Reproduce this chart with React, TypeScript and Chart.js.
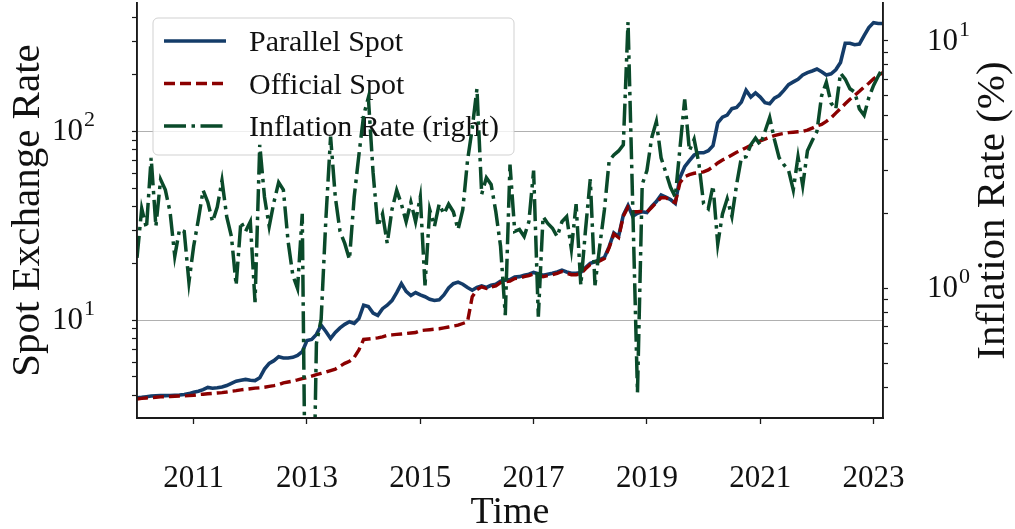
import React, { useEffect, useRef } from 'react';
import { Chart, registerables } from 'chart.js';

Chart.register(...registerables);

// ---------------- data ----------------
const START_YEAR = 2010; // monthly observations, Jan 2010 .. Mar 2023

const parallelSpot = [
  3.88, 3.9, 3.93, 3.96, 3.97, 3.98, 3.98, 3.99, 4.0, 4.01, 4.04, 4.08,
  4.15, 4.2, 4.28, 4.4, 4.36, 4.38, 4.42, 4.5, 4.62, 4.75, 4.8, 4.85,
  4.8, 4.78, 4.95, 5.5, 5.9, 6.1, 6.4, 6.3, 6.3, 6.35, 6.5, 6.8,
  7.8, 7.9, 8.4, 9.4, 8.7, 8.0, 8.6, 9.1, 9.5, 9.8, 9.6, 10.2,
  12.0, 11.8, 10.9, 10.6, 11.5, 12.0, 12.7, 14.0, 15.6, 14.2, 13.5, 14.0,
  13.6, 13.3, 12.9, 12.7, 12.8, 13.6, 14.8, 15.6, 15.9, 15.5, 14.9, 14.4,
  14.9, 15.2, 14.9, 15.3, 15.5, 16.1, 16.3, 16.4, 16.9, 17.0, 17.3, 17.5,
  17.9, 17.6, 17.3, 17.5, 17.7, 18.0, 18.4, 18.0, 17.7, 17.7, 17.9, 19.0,
  20.0, 20.4, 20.9, 21.5, 24.5, 29.0, 27.8, 36.0, 40.5, 35.5, 36.8, 37.5,
  37.2, 40.0, 42.5, 46.0, 44.8, 43.5, 41.5, 57.0, 65.0, 70.0, 75.0, 77.0,
  77.0, 79.0, 84.0, 111, 119, 122, 132, 134, 143, 165, 152, 160,
  152, 142, 140, 150, 155, 165, 177, 183, 189, 199, 205, 209,
  214, 207, 199, 202, 212, 232, 293, 293, 288, 290, 322, 355,
  377, 373, 373,
];

const officialSpot = [
  3.82, 3.85, 3.87, 3.88, 3.9, 3.92, 3.93, 3.94, 3.95, 3.96, 3.97, 3.98,
  4.0, 4.03, 4.05, 4.07, 4.09, 4.11, 4.13, 4.16, 4.2, 4.23, 4.27, 4.3,
  4.33, 4.36, 4.38, 4.41, 4.46, 4.5, 4.55, 4.65, 4.7, 4.75, 4.82, 4.9,
  4.96, 5.05, 5.14, 5.22, 5.3, 5.4, 5.5, 5.7, 5.9, 6.05, 6.35, 6.95,
  7.9, 7.95, 8.0, 8.05, 8.15, 8.3, 8.35, 8.4, 8.45, 8.5, 8.55, 8.6,
  8.8, 8.85, 8.9, 8.95, 9.0, 9.1, 9.2, 9.3, 9.4, 9.6, 9.8, 13.3,
  14.5, 15.0, 14.7, 15.0, 15.2, 15.8, 16.0, 16.1, 16.6, 16.7, 17.0, 17.2,
  17.6, 17.3, 17.0, 17.2, 17.4, 17.7, 18.1, 17.7, 17.4, 17.4, 17.6, 18.7,
  19.7, 20.1, 20.6, 21.2, 24.2, 28.6, 27.4, 35.5, 39.8, 37.5, 37.5, 37.8,
  37.4, 39.5, 42.0, 44.5, 44.5, 43.0, 42.0, 53.5, 57.5, 59.0, 60.0, 60.5,
  61.0, 62.5, 65.0, 68.0, 70.5, 72.5, 75.0, 77.5, 79.5, 82.0, 84.5, 87.0,
  89.0, 91.0, 93.0, 95.0, 96.5, 97.5, 98.5, 99.0, 99.5, 100, 101.5, 104,
  107, 109, 113, 118, 125, 132, 140, 148, 155, 163, 172, 180,
  190, 198, 205,
];

const inflationRate = [
  1.33, 2.1, 1.75, 3.37, 1.78, 2.75, 2.5, 2.04, 1.35, 1.73, 1.7, 1.06,
  1.48, 1.9, 2.49, 2.23, 1.86, 2.13, 2.73, 1.95, 1.62, 1.03, 1.86, 1.7,
  1.86, 0.88, 3.8, 2.34, 1.78, 2.23, 2.68, 2.5, 1.55, 1.13, 1.0, 2.0,
  0.03, 0.05, 0.6, 0.75, 1.9, 4.1, 2.34, 1.7, 1.52, 1.31, 2.34, 3.46,
  5.0, 5.9, 2.94, 1.78, 2.0, 1.52, 2.08, 2.49, 2.19, 1.86, 2.23, 1.86,
  2.34, 1.03, 2.08, 1.78, 2.19, 2.0, 2.19, 2.04, 1.73, 2.08, 3.28, 4.43,
  6.4, 2.4, 2.8, 2.63, 2.04, 1.48, 0.78, 3.16, 1.7, 1.73, 1.62, 1.86,
  2.99, 0.77, 1.95, 1.83, 1.75, 1.62, 1.86, 1.95, 1.44, 2.19, 1.03, 1.73,
  2.76, 1.03, 1.48, 2.08, 3.28, 3.46, 3.59, 3.8, 11.9, 2.13, 0.38, 2.63,
  2.99, 4.05, 4.72, 3.37, 2.94, 2.56, 2.34, 3.69, 5.8, 3.6, 4.0, 3.2,
  2.2, 2.1, 2.6, 1.51, 2.0, 2.3, 1.95, 2.63, 3.37, 3.4, 3.8, 4.05,
  3.8, 4.3, 4.9, 4.0, 3.37, 3.16, 3.0, 2.5, 3.4, 2.6, 3.6, 3.95,
  4.3, 6.0, 6.8, 5.6, 5.3, 7.4, 7.0, 6.4, 6.2, 5.3, 5.0, 5.9,
  6.6, 7.2, 7.8,
];

const seriesNames = ['Parallel Spot', 'Official Spot', 'Inflation Rate (right)'];
const xTickYears = [2011, 2013, 2015, 2017, 2019, 2021, 2023];
const leftTickValues = [4, 5, 6, 7, 8, 9, 10, 20, 30, 40, 50, 60, 70, 80, 90, 100, 200, 300, 400];
const rightTickValues = [0.4, 0.5, 0.6, 0.7, 0.8, 0.9, 1, 2, 3, 4, 5, 6, 7, 8, 9, 10];
const leftMajorTicks = [10, 100];
const rightMajorTicks = [1, 10];
const xTitle = 'Time';
const leftTitle = 'Spot Exchange Rate';
const rightTitle = 'Inflation Rate (%)';

// ---------------- style ----------------
const FONT = "'Liberation Serif', 'Times New Roman', serif";
const BLUE = '#143c69';
const RED = '#8b0000';
const GREEN = '#0a4a2a';
const SPINE = '#1a1a1a';
const TEXT = '#111111';

const months = parallelSpot.map((_, i) => START_YEAR + i / 12);
const toPoints = (vals: number[]) => vals.map((v, i) => ({ x: months[i], y: v }));

function drawLegend(chart: any) {
  const ctx: CanvasRenderingContext2D = chart.ctx;
  const ca = chart.chartArea;
  const x0 = ca.left + 16;
  const y0 = ca.top + 15;
  const w = 361;
  const h = 137;
  const r = 5;
  ctx.save();
  ctx.beginPath();
  ctx.moveTo(x0 + r, y0);
  ctx.lineTo(x0 + w - r, y0);
  ctx.arcTo(x0 + w, y0, x0 + w, y0 + r, r);
  ctx.lineTo(x0 + w, y0 + h - r);
  ctx.arcTo(x0 + w, y0 + h, x0 + w - r, y0 + h, r);
  ctx.lineTo(x0 + r, y0 + h);
  ctx.arcTo(x0, y0 + h, x0, y0 + h - r, r);
  ctx.lineTo(x0, y0 + r);
  ctx.arcTo(x0, y0, x0 + r, y0, r);
  ctx.closePath();
  ctx.fillStyle = 'rgba(255,255,255,0.8)';
  ctx.fill();
  ctx.strokeStyle = 'rgba(204,204,204,0.9)';
  ctx.lineWidth = 1;
  ctx.stroke();

  chart.data.datasets.forEach((ds: any, k: number) => {
    const y = y0 + 23 + k * 42.5;
    ctx.beginPath();
    ctx.setLineDash(ds.borderDash || []);
    ctx.lineDashOffset = 0;
    ctx.strokeStyle = ds.borderColor;
    ctx.lineWidth = ds.borderWidth;
    ctx.lineCap = 'butt';
    ctx.moveTo(x0 + 11, y);
    ctx.lineTo(x0 + 73, y);
    ctx.stroke();
    ctx.setLineDash([]);
    ctx.fillStyle = TEXT;
    ctx.font = `30px ${FONT}`;
    ctx.textAlign = 'left';
    ctx.textBaseline = 'alphabetic';
    ctx.fillText(seriesNames[k], x0 + 96, y + 10);
  });
  ctx.restore();
}

// "10^n" label with a real superscript
function drawPower(ctx: CanvasRenderingContext2D, value: number, x: number, y: number, align: 'left' | 'right') {
  const exp = String(Math.round(Math.log10(value)));
  ctx.font = `31px ${FONT}`;
  const wBase = ctx.measureText('10').width;
  ctx.font = `22px ${FONT}`;
  const wExp = ctx.measureText(exp).width;
  const start = align === 'right' ? x - wBase - wExp - 1 : x;
  ctx.textAlign = 'left';
  ctx.textBaseline = 'alphabetic';
  ctx.font = `31px ${FONT}`;
  ctx.fillText('10', start, y + 9);
  ctx.font = `22px ${FONT}`;
  ctx.fillText(exp, start + wBase + 1, y - 5);
}

const decorPlugin = {
  id: 'decor',
  beforeDatasetDraw(chart: any, args: any) {
    if (args.index === 2) drawLegend(chart);
  },
  afterDraw(chart: any) {
    const ctx: CanvasRenderingContext2D = chart.ctx;
    const ca = chart.chartArea;
    const midY = (ca.top + ca.bottom) / 2;
    const yl = chart.scales.y;
    const yr = chart.scales.y1;
    ctx.save();
    ctx.fillStyle = TEXT;

    leftMajorTicks.forEach((v) => drawPower(ctx, v, ca.left - 42, yl.getPixelForValue(v), 'right'));
    rightMajorTicks.forEach((v) => drawPower(ctx, v, ca.right + 44, yr.getPixelForValue(v), 'left'));

    ctx.textAlign = 'center';
    ctx.textBaseline = 'alphabetic';
    ctx.font = `38px ${FONT}`;
    ctx.fillText(xTitle, (ca.left + ca.right) / 2, 523);

    ctx.font = `41px ${FONT}`;
    ctx.save();
    ctx.translate(39, midY);
    ctx.rotate(-Math.PI / 2);
    ctx.fillText(leftTitle, 0, 0);
    ctx.restore();

    ctx.save();
    ctx.translate(1004, midY);
    ctx.rotate(-Math.PI / 2);
    ctx.fillText(rightTitle, 0, 0);
    ctx.restore();
    ctx.restore();
  },
};

const noPad = (s: any) => {
  s.paddingTop = 0;
  s.paddingBottom = 0;
  s.paddingLeft = 0;
  s.paddingRight = 0;
};

export default function App() {
  const canvasRef = useRef<HTMLCanvasElement | null>(null);

  useEffect(() => {
    const canvas = canvasRef.current;
    if (!canvas) return;
    const tickFont = { family: FONT, size: 31 };
    const chart = new Chart(canvas, {
      type: 'line',
      data: {
        datasets: [
          {
            label: seriesNames[0],
            data: toPoints(parallelSpot),
            yAxisID: 'y',
            borderColor: BLUE,
            borderWidth: 3.6,
            pointRadius: 0,
            tension: 0,
            order: 2,
            clip: 0,
          },
          {
            label: seriesNames[1],
            data: toPoints(officialSpot),
            yAxisID: 'y',
            borderColor: RED,
            borderWidth: 3.4,
            borderDash: [11, 5],
            pointRadius: 0,
            tension: 0,
            order: 1,
            clip: 0,
          },
          {
            label: seriesNames[2],
            data: toPoints(inflationRate),
            yAxisID: 'y1',
            borderColor: GREEN,
            borderWidth: 3.5,
            borderDash: [22, 5.5, 3.5, 5.5],
            pointRadius: 0,
            tension: 0,
            order: 0,
            clip: 0,
          },
        ],
      } as any,
      options: {
        animation: false,
        responsive: false,
        devicePixelRatio: 1,
        layout: { padding: { top: 3, left: 0, right: 0, bottom: 0 } },
        plugins: { legend: { display: false }, tooltip: { enabled: false } },
        scales: {
          x: {
            type: 'linear',
            min: START_YEAR,
            max: months[months.length - 1],
            afterBuildTicks: (s: any) => {
              s.ticks = xTickYears.map((v) => ({ value: v }));
            },
            afterFit: (s: any) => {
              s.height = 111;
              noPad(s);
            },
            ticks: {
              callback: (v: any) => String(v),
              font: tickFont,
              color: TEXT,
              padding: 36,
              autoSkip: false,
              maxRotation: 0,
            },
            grid: { drawOnChartArea: false, tickLength: 6, tickColor: SPINE, tickWidth: 1.3 },
            border: { display: true, color: SPINE, width: 1.9, z: 1 },
          },
          y: {
            type: 'logarithmic',
            position: 'left',
            min: 3.03,
            max: 479,
            afterBuildTicks: (s: any) => {
              s.ticks = leftTickValues.map((v) => ({ value: v }));
            },
            afterFit: (s: any) => {
              s.width = 137;
              noPad(s);
            },
            ticks: { callback: () => '', autoSkip: false, font: { size: 1 } },
            grid: {
              color: (c: any) => (c.tick && leftMajorTicks.includes(c.tick.value) ? '#b0b0b0' : 'rgba(0,0,0,0)'),
              lineWidth: 1,
              tickColor: SPINE,
              tickWidth: 1.2,
              tickLength: 5,
            },
            border: { display: true, color: SPINE, width: 1.9, z: 1 },
          },
          y1: {
            type: 'logarithmic',
            position: 'right',
            min: 0.319,
            max: 14.2,
            afterBuildTicks: (s: any) => {
              s.ticks = rightTickValues.map((v) => ({ value: v }));
            },
            afterFit: (s: any) => {
              s.width = 132;
              noPad(s);
            },
            ticks: { callback: () => '', autoSkip: false, font: { size: 1 } },
            grid: { drawOnChartArea: false, tickColor: SPINE, tickWidth: 1.2, tickLength: 5 },
            border: { display: true, color: SPINE, width: 1.9, z: 1 },
          },
        },
      } as any,
      plugins: [decorPlugin],
    });
    return () => chart.destroy();
  }, []);

  return (
    <div style={{ position: 'fixed', left: 0, top: 0, width: 1015, height: 529, background: '#fff' }}>
      <canvas ref={canvasRef} width={1015} height={529} style={{ display: 'block' }} />
    </div>
  );
}
